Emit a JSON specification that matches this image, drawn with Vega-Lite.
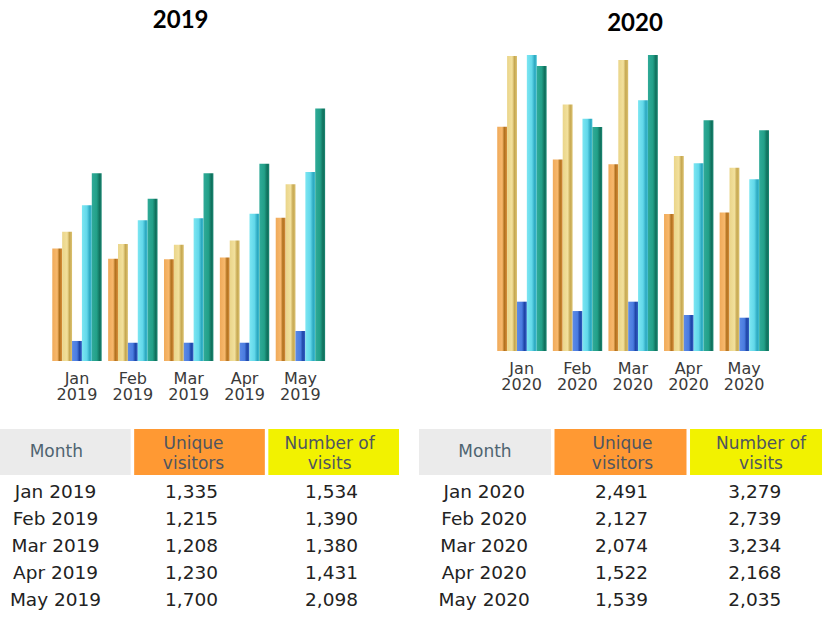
{
  "$schema": "https://vega.github.io/schema/vega-lite/v6.json",
  "padding": {"top": 9, "left": 0, "right": 0, "bottom": 0},
  "background": "white",
  "config": {"view": {"stroke": null}, "font": "DejaVu Sans"},
  "datasets": {
    "y2019": [
      {"month": "Jan 2019", "unique": 1335, "visits": 1534, "pages": 238, "hits": 1849, "bandwidth": 2229},
      {"month": "Feb 2019", "unique": 1215, "visits": 1390, "pages": 217, "hits": 1671, "bandwidth": 1928},
      {"month": "Mar 2019", "unique": 1208, "visits": 1380, "pages": 217, "hits": 1695, "bandwidth": 2229},
      {"month": "Apr 2019", "unique": 1230, "visits": 1431, "pages": 217, "hits": 1749, "bandwidth": 2343},
      {"month": "May 2019", "unique": 1700, "visits": 2098, "pages": 356, "hits": 2245, "bandwidth": 3000}
    ],
    "y2020": [
      {"month": "Jan 2020", "unique": 2491, "visits": 3279, "pages": 548, "hits": 3289, "bandwidth": 3167},
      {"month": "Feb 2020", "unique": 2127, "visits": 2739, "pages": 444, "hits": 2581, "bandwidth": 2489},
      {"month": "Mar 2020", "unique": 2074, "visits": 3234, "pages": 548, "hits": 2786, "bandwidth": 3289},
      {"month": "Apr 2020", "unique": 1522, "visits": 2168, "pages": 400, "hits": 2086, "bandwidth": 2563},
      {"month": "May 2020", "unique": 1539, "visits": 2035, "pages": 370, "hits": 1908, "bandwidth": 2452}
    ],
    "header": [
      {"col": "Month", "label": "Month"},
      {"col": "Unique visitors", "label": "Unique\nvisitors"},
      {"col": "Number of visits", "label": "Number of\nvisits"}
    ]
  },
  "spacing": 20,
  "hconcat": [
    {
      "spacing": 27,
      "vconcat": [
        {
          "title": {"text": "2019", "font": "Lato", "fontSize": 24, "fontWeight": "bold", "color": "#000000", "offset": 21, "dx": -8},
          "width": 377.4,
          "height": 307,
          "data": {"name": "y2019"},
          "transform": [{"fold": ["unique", "visits", "pages", "hits", "bandwidth"], "as": ["series", "value"]}],
          "encoding": {
            "x": {"field": "month", "type": "nominal", "sort": null,
              "scale": {"paddingInner": 0.116, "paddingOuter": 0.936},
              "axis": {"title": null, "domain": false, "ticks": false, "labelAngle": 0, "labelOverlap": false,
                "labelExpr": "split(datum.value, ' ')", "labelFont": "DejaVu Sans", "labelFontSize": 16,
                "labelColor": "#3A3A3A", "labelPadding": 9, "labelLineHeight": 16}},
            "xOffset": {"field": "series", "type": "nominal", "scale": {"domain": ["unique", "visits", "pages", "hits", "bandwidth"]}},
            "y": {"field": "value", "type": "quantitative", "scale": {"domain": [0, 3646], "nice": false}, "axis": null}
          },
          "layer": [
            {"transform": [{"filter": "datum.series === 'unique'"}],
             "mark": {"type": "bar", "color": {"gradient": "linear", "stops": [{"offset": 0, "color": "#F0AA5A"}, {"offset": 0.5, "color": "#F7B86C"}, {"offset": 0.72, "color": "#B0701E"}, {"offset": 1, "color": "#D8903C"}]}}},
            {"transform": [{"filter": "datum.series === 'visits'"}],
             "mark": {"type": "bar", "color": {"gradient": "linear", "stops": [{"offset": 0, "color": "#EAD58A"}, {"offset": 0.5, "color": "#F2E09C"}, {"offset": 0.75, "color": "#C6A852"}, {"offset": 1, "color": "#DCC270"}]}}},
            {"transform": [{"filter": "datum.series === 'pages'"}],
             "mark": {"type": "bar", "color": {"gradient": "linear", "stops": [{"offset": 0, "color": "#5C8AE6"}, {"offset": 0.5, "color": "#4A7CE0"}, {"offset": 0.75, "color": "#1E44A6"}, {"offset": 1, "color": "#3462C8"}]}}},
            {"transform": [{"filter": "datum.series === 'hits'"}],
             "mark": {"type": "bar", "color": {"gradient": "linear", "stops": [{"offset": 0, "color": "#7CE6F2"}, {"offset": 0.5, "color": "#62D8EA"}, {"offset": 0.8, "color": "#2CA8C0"}, {"offset": 1, "color": "#40C0D4"}]}}},
            {"transform": [{"filter": "datum.series === 'bandwidth'"}],
             "mark": {"type": "bar", "color": {"gradient": "linear", "stops": [{"offset": 0, "color": "#30AA98"}, {"offset": 0.5, "color": "#22A088"}, {"offset": 0.8, "color": "#10705C"}, {"offset": 1, "color": "#1A8874"}]}}}
          ]
        },
        {
          "spacing": 3,
          "vconcat": [
            {
              "width": 399,
              "height": 46,
              "data": {"name": "header"},
              "encoding": {
                "x": {"field": "col", "type": "nominal", "sort": null,
                  "scale": {"domain": ["Month", "Unique visitors", "Number of visits"], "paddingInner": 0.026, "paddingOuter": 0},
                  "axis": null}
              },
              "layer": [
                {"mark": {"type": "rect"},
                 "encoding": {"color": {"field": "col", "type": "nominal", "scale": {"domain": ["Month", "Unique visitors", "Number of visits"], "range": ["#EBEBEB", "#FF9933", "#F2F200"]}, "legend": null}}},
                {"transform": [{"filter": "datum.col === 'Month'"}],
                 "mark": {"type": "text", "lineBreak": "\n", "fontSize": 17, "lineHeight": 20, "color": "#4F6470", "dx": -9},
                 "encoding": {"text": {"field": "label"}}},
                {"transform": [{"filter": "datum.col === 'Unique visitors'"}],
                 "mark": {"type": "text", "lineBreak": "\n", "fontSize": 17, "lineHeight": 20, "color": "#4F5560", "dx": -6, "dy": -8},
                 "encoding": {"text": {"field": "label"}}},
                {"transform": [{"filter": "datum.col === 'Number of visits'"}],
                 "mark": {"type": "text", "lineBreak": "\n", "fontSize": 17, "lineHeight": 20, "color": "#4F5560", "dx": -4, "dy": -8},
                 "encoding": {"text": {"field": "label"}}}
              ]
            },
            {
              "width": 399,
              "height": 135,
              "data": {"name": "y2019"},
              "encoding": {
                "y": {"field": "month", "type": "nominal", "sort": null, "axis": null}
              },
              "layer": [
                {"mark": {"type": "text", "fontSize": 18.5, "color": "#222222", "dx": -11},
                 "encoding": {"x": {"datum": "Month", "type": "nominal", "scale": {"domain": ["Month", "Unique visitors", "Number of visits"]}, "axis": null}, "text": {"field": "month"}}},
                {"mark": {"type": "text", "fontSize": 18.5, "color": "#222222", "dx": -8},
                 "encoding": {"x": {"datum": "Unique visitors", "type": "nominal"}, "text": {"field": "unique", "type": "quantitative", "format": ","}}},
                {"mark": {"type": "text", "fontSize": 18.5, "color": "#222222", "dx": -1},
                 "encoding": {"x": {"datum": "Number of visits", "type": "nominal"}, "text": {"field": "visits", "type": "quantitative", "format": ","}}}
              ]
            }
          ]
        }
      ]
    },
    {
      "spacing": 37,
      "vconcat": [
        {
          "title": {"text": "2020", "font": "Lato", "fontSize": 24, "fontWeight": "bold", "color": "#000000", "offset": 18, "dx": 26},
          "width": 380,
          "height": 297,
          "data": {"name": "y2020"},
          "transform": [{"fold": ["unique", "visits", "pages", "hits", "bandwidth"], "as": ["series", "value"]}],
          "encoding": {
            "x": {"field": "month", "type": "nominal", "sort": null,
              "scale": {"paddingInner": 0.12, "paddingOuter": 0.977, "align": 0.72},
              "axis": {"title": null, "domain": false, "ticks": false, "labelAngle": 0, "labelOverlap": false,
                "labelExpr": "split(datum.value, ' ')", "labelFont": "DejaVu Sans", "labelFontSize": 16,
                "labelColor": "#3A3A3A", "labelPadding": 9, "labelLineHeight": 16}},
            "xOffset": {"field": "series", "type": "nominal", "scale": {"domain": ["unique", "visits", "pages", "hits", "bandwidth"]}},
            "y": {"field": "value", "type": "quantitative", "scale": {"domain": [0, 3300], "nice": false}, "axis": null}
          },
          "layer": [
            {"transform": [{"filter": "datum.series === 'unique'"}],
             "mark": {"type": "bar", "color": {"gradient": "linear", "stops": [{"offset": 0, "color": "#F0AA5A"}, {"offset": 0.5, "color": "#F7B86C"}, {"offset": 0.72, "color": "#B0701E"}, {"offset": 1, "color": "#D8903C"}]}}},
            {"transform": [{"filter": "datum.series === 'visits'"}],
             "mark": {"type": "bar", "color": {"gradient": "linear", "stops": [{"offset": 0, "color": "#EAD58A"}, {"offset": 0.5, "color": "#F2E09C"}, {"offset": 0.75, "color": "#C6A852"}, {"offset": 1, "color": "#DCC270"}]}}},
            {"transform": [{"filter": "datum.series === 'pages'"}],
             "mark": {"type": "bar", "color": {"gradient": "linear", "stops": [{"offset": 0, "color": "#5C8AE6"}, {"offset": 0.5, "color": "#4A7CE0"}, {"offset": 0.75, "color": "#1E44A6"}, {"offset": 1, "color": "#3462C8"}]}}},
            {"transform": [{"filter": "datum.series === 'hits'"}],
             "mark": {"type": "bar", "color": {"gradient": "linear", "stops": [{"offset": 0, "color": "#7CE6F2"}, {"offset": 0.5, "color": "#62D8EA"}, {"offset": 0.8, "color": "#2CA8C0"}, {"offset": 1, "color": "#40C0D4"}]}}},
            {"transform": [{"filter": "datum.series === 'bandwidth'"}],
             "mark": {"type": "bar", "color": {"gradient": "linear", "stops": [{"offset": 0, "color": "#30AA98"}, {"offset": 0.5, "color": "#22A088"}, {"offset": 0.8, "color": "#10705C"}, {"offset": 1, "color": "#1A8874"}]}}}
          ]
        },
        {
          "spacing": 3,
          "vconcat": [
            {
              "width": 403,
              "height": 46,
              "data": {"name": "header"},
              "encoding": {
                "x": {"field": "col", "type": "nominal", "sort": null,
                  "scale": {"domain": ["Month", "Unique visitors", "Number of visits"], "paddingInner": 0.026, "paddingOuter": 0},
                  "axis": null}
              },
              "layer": [
                {"mark": {"type": "rect"},
                 "encoding": {"color": {"field": "col", "type": "nominal", "scale": {"domain": ["Month", "Unique visitors", "Number of visits"], "range": ["#EBEBEB", "#FF9933", "#F2F200"]}, "legend": null}}},
                {"transform": [{"filter": "datum.col === 'Month'"}],
                 "mark": {"type": "text", "lineBreak": "\n", "fontSize": 17, "lineHeight": 20, "color": "#4F6470", "dx": 0},
                 "encoding": {"text": {"field": "label"}}},
                {"transform": [{"filter": "datum.col === 'Unique visitors'"}],
                 "mark": {"type": "text", "lineBreak": "\n", "fontSize": 17, "lineHeight": 20, "color": "#4F5560", "dx": 2, "dy": -8},
                 "encoding": {"text": {"field": "label"}}},
                {"transform": [{"filter": "datum.col === 'Number of visits'"}],
                 "mark": {"type": "text", "lineBreak": "\n", "fontSize": 17, "lineHeight": 20, "color": "#4F5560", "dx": 5, "dy": -8},
                 "encoding": {"text": {"field": "label"}}}
              ]
            },
            {
              "width": 403,
              "height": 135,
              "data": {"name": "y2020"},
              "encoding": {
                "y": {"field": "month", "type": "nominal", "sort": null, "axis": null}
              },
              "layer": [
                {"mark": {"type": "text", "fontSize": 18.5, "color": "#222222", "dx": -2},
                 "encoding": {"x": {"datum": "Month", "type": "nominal", "scale": {"domain": ["Month", "Unique visitors", "Number of visits"]}, "axis": null}, "text": {"field": "month"}}},
                {"mark": {"type": "text", "fontSize": 18.5, "color": "#222222", "dx": 1},
                 "encoding": {"x": {"datum": "Unique visitors", "type": "nominal"}, "text": {"field": "unique", "type": "quantitative", "format": ","}}},
                {"mark": {"type": "text", "fontSize": 18.5, "color": "#222222", "dx": 0},
                 "encoding": {"x": {"datum": "Number of visits", "type": "nominal"}, "text": {"field": "visits", "type": "quantitative", "format": ","}}}
              ]
            }
          ]
        }
      ]
    }
  ]
}
